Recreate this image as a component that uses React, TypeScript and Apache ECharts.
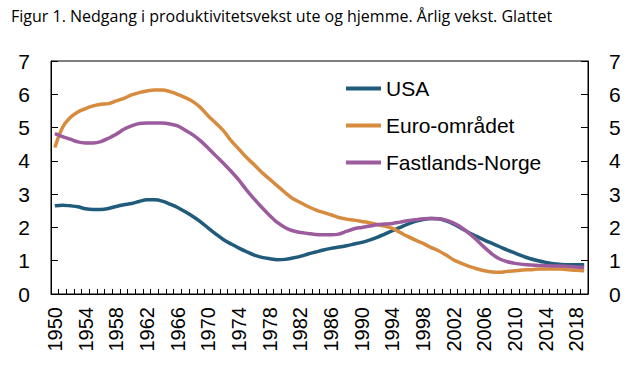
import React, { useEffect, useRef } from "react";
import * as echarts from "echarts";

const years: string[] = [];
for (let y = 1950; y <= 2019; y++) years.push(String(y));

const usa = [
  2.65, 2.67, 2.65, 2.62, 2.56, 2.54, 2.54, 2.57, 2.63, 2.68,
  2.72, 2.78, 2.83, 2.83, 2.79, 2.7, 2.6, 2.47, 2.33, 2.17,
  1.98, 1.8, 1.63, 1.5, 1.38, 1.27, 1.17, 1.1, 1.06, 1.03,
  1.04, 1.08, 1.13, 1.2, 1.26, 1.32, 1.37, 1.41, 1.45, 1.5,
  1.55, 1.62, 1.7, 1.8, 1.9, 2.0, 2.1, 2.18, 2.24, 2.27,
  2.26, 2.2, 2.1, 1.97, 1.84, 1.73, 1.62, 1.52, 1.42, 1.32,
  1.23, 1.14, 1.06, 1.0, 0.95, 0.91, 0.89, 0.88, 0.88, 0.88,
];

const euro = [
  4.4, 5.0, 5.3, 5.47, 5.57, 5.65, 5.7, 5.72, 5.8, 5.88,
  5.98, 6.05, 6.1, 6.13, 6.13, 6.08, 6.0, 5.9, 5.78, 5.6,
  5.35, 5.13, 4.9, 4.6, 4.35, 4.1, 3.88, 3.65, 3.45, 3.25,
  3.05, 2.87, 2.75, 2.63, 2.53, 2.45, 2.38, 2.3, 2.25, 2.22,
  2.18, 2.14, 2.09, 2.04, 1.97, 1.85, 1.73, 1.62, 1.52, 1.4,
  1.3, 1.17, 1.02, 0.92, 0.83, 0.76, 0.7, 0.66, 0.65, 0.68,
  0.7, 0.72, 0.73, 0.75, 0.75, 0.75, 0.75, 0.73, 0.71, 0.7,
];

const norge = [
  4.82, 4.73, 4.65, 4.57, 4.54, 4.54, 4.58, 4.68, 4.8, 4.95,
  5.05, 5.12, 5.14, 5.14, 5.14, 5.11, 5.05, 4.92, 4.78, 4.6,
  4.38, 4.15, 3.92, 3.68, 3.42, 3.12, 2.85, 2.6, 2.36, 2.15,
  2.0, 1.9, 1.85, 1.82, 1.79, 1.78, 1.78, 1.8, 1.88, 1.96,
  2.0, 2.04, 2.08, 2.1, 2.12, 2.16, 2.2, 2.23, 2.26, 2.27,
  2.26, 2.22, 2.13, 2.0, 1.82, 1.62, 1.4, 1.2, 1.05, 0.97,
  0.92, 0.89, 0.87, 0.86, 0.85, 0.84, 0.84, 0.83, 0.81, 0.8,
];

const seriesNames = ["USA", "Euro-området", "Fastlands-Norge"];
const seriesColors = ["#215b7c", "#d68b3e", "#9b5b9d"];
const titleText = "Figur 1. Nedgang i produktivitetsvekst ute og hjemme. Årlig vekst. Glattet";

const FONT = "'Liberation Sans', Arial, sans-serif";

export default function App() {
  const ref = useRef<HTMLDivElement>(null);
  useEffect(() => {
    if (!ref.current) return;
    const chart = echarts.init(ref.current, null, { renderer: "svg" });
    const data = [usa, euro, norge];
    const yAxisCommon = {
      type: "value" as const,
      min: 0,
      max: 7,
      interval: 1,
      splitLine: { show: false },
      axisLine: { show: true, lineStyle: { color: "#000", width: 1 } },
      axisTick: { show: true, inside: true, length: 7, lineStyle: { color: "#000" } },
      axisLabel: { fontSize: 21, color: "#000", fontFamily: FONT, margin: 21 },
    };
    chart.setOption({
      animation: false,
      backgroundColor: "#fff",
      title: {
        text: titleText,
        left: 6,
        top: 3,
        textStyle: { fontSize: 16, fontWeight: "normal", color: "#000", fontFamily: "'Open Sans', 'Noto Sans', sans-serif" },
      },
      legend: {
        data: seriesNames,
        orient: "vertical",
        left: 341,
        top: 73,
        itemWidth: 35,
        itemHeight: 4,
        itemGap: 16,
        icon: "rect",
        textStyle: { fontSize: 21, color: "#000", fontFamily: FONT },
      },
      grid: {
        left: 51,
        right: 47,
        top: 61,
        bottom: 79,
        show: true,
        borderColor: "#000",
        borderWidth: 1,
      },
      xAxis: {
        type: "category",
        data: years,
        boundaryGap: true,
        axisLine: { show: true, lineStyle: { color: "#000", width: 1 } },
        axisTick: { show: true, inside: true, length: 5, interval: 0, lineStyle: { color: "#000" } },
        axisLabel: { interval: 3, rotate: 90, fontSize: 20, color: "#000", fontFamily: FONT, margin: 13 },
        splitLine: { show: false },
      },
      yAxis: [
        { ...yAxisCommon, position: "left" },
        { ...yAxisCommon, position: "right" },
      ],
      series: seriesNames.map((name, i) => ({
        name,
        type: "line",
        data: data[i],
        yAxisIndex: 0,
        symbol: "none",
        smooth: 0.3,
        lineStyle: { width: 3.5, color: seriesColors[i] },
        itemStyle: { color: seriesColors[i] },
      })),
    });
    return () => chart.dispose();
  }, []);
  return (
    <div
      ref={ref}
      style={{ position: "absolute", left: 0, top: 0, width: 635, height: 373 }}
    />
  );
}
